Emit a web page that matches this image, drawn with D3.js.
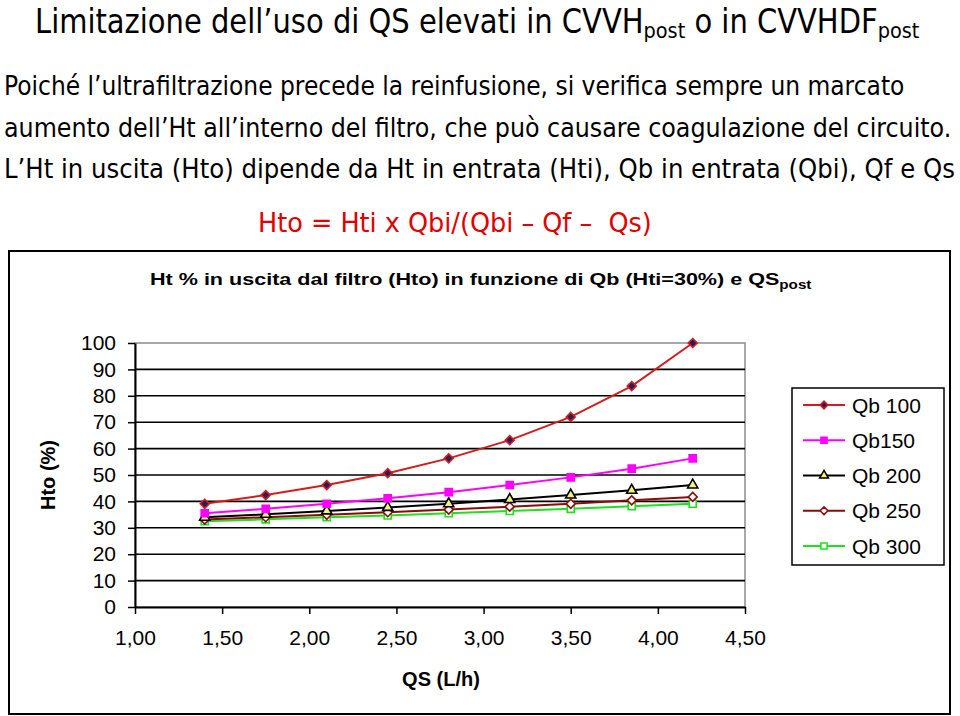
<!DOCTYPE html>
<html><head><meta charset="utf-8">
<script src="https://cdn.jsdelivr.net/npm/d3@7/dist/d3.min.js"></script>
<style>body{margin:0;background:#fff}svg{display:block}</style>
</head><body>
<svg id="c" width="960" height="716"></svg>
<script>
const qsValues = [1.40, 1.75, 2.10, 2.45, 2.80, 3.15, 3.50, 3.85, 4.20];
const seriesNames = ["Qb 100", "Qb150", "Qb 200", "Qb 250", "Qb 300"];
const qb100 = [39.1, 42.4, 46.2, 50.7, 56.3, 63.2, 72.0, 83.7, 100.0];
const qb150 = [35.5, 37.2, 39.1, 41.2, 43.5, 46.2, 49.1, 52.4, 56.3];
const qb200 = [34.0, 35.1, 36.4, 37.7, 39.1, 40.7, 42.4, 44.2, 46.2];
const qb250 = [33.1, 34.0, 34.9, 35.9, 36.9, 38.0, 39.1, 40.4, 41.7];
const qb300 = [32.5, 33.2, 34.0, 34.7, 35.5, 36.4, 37.2, 38.2, 39.1];
const xTicks = [1.00, 1.50, 2.00, 2.50, 3.00, 3.50, 4.00, 4.50];
const yTicks = [0, 10, 20, 30, 40, 50, 60, 70, 80, 90, 100];

const svg = d3.select("#c");
const ARIAL = "'Liberation Sans', Arial, sans-serif";
const TAHOMA = "'DejaVu Sans', Verdana, sans-serif";

function fit(sel, x0, w) {
  const bw = sel.node().getBBox().width;
  const k = w / bw;
  sel.attr("transform", `translate(${x0},0) scale(${k},1) translate(${-x0},0)`);
}

// Slide title
const t = svg.append("text").attr("x", 35).attr("y", 33)
  .attr("font-family", TAHOMA).attr("font-size", 33).attr("fill", "#000");
t.append("tspan").text("Limitazione dell\u2019uso di QS elevati in CVVH");
t.append("tspan").attr("font-size", 22).attr("dy", 5).text("post");
t.append("tspan").attr("dy", -5).text(" o in CVVHDF");
t.append("tspan").attr("font-size", 22).attr("dy", 5).text("post");
fit(t, 35, 885);

const lines = [
  ["Poich\u00e9 l\u2019ultrafiltrazione precede la reinfusione, si verifica sempre un marcato", 95, 905],
  ["aumento dell\u2019Ht all\u2019interno del filtro, che pu\u00f2 causare coagulazione del circuito.", 137, 952],
  ["L\u2019Ht in uscita (Hto) dipende da Ht in entrata (Hti), Qb in entrata (Qbi), Qf e Qs", 178, 955]
];
lines.forEach(([s, y, x1]) => {
  const tx = svg.append("text").attr("x", 4).attr("y", y)
    .attr("font-family", TAHOMA).attr("font-size", 26).attr("fill", "#000").text(s);
  fit(tx, 4, x1 - 4);
});
const f = svg.append("text").attr("x", 258).attr("y", 232)
  .attr("font-family", TAHOMA).attr("font-size", 26).attr("fill", "#e00000")
  .text("Hto = Hti x Qbi/(Qbi \u2013 Qf \u2013  Qs)").attr("xml:space", "preserve");
fit(f, 258, 394);

// Chart box
svg.append("rect").attr("x", 9).attr("y", 251).attr("width", 941).attr("height", 463)
  .attr("fill", "#fff").attr("stroke", "#000").attr("stroke-width", 2);

const ct = svg.append("text").attr("x", 150).attr("y", 285)
  .attr("font-family", ARIAL).attr("font-weight", "bold").attr("font-size", 17).attr("fill", "#000");
ct.append("tspan").text("Ht % in uscita dal filtro (Hto) in funzione di Qb (Hti=30%) e QS");
ct.append("tspan").attr("font-size", 12).attr("dy", 4).text("post");
fit(ct, 150, 662);

// Scales
const x = d3.scaleLinear().domain([1, 4.5]).range([135, 745]);
const y = d3.scaleLinear().domain([0, 100]).range([607, 343]);

// Plot border (gray) and gridlines
svg.append("rect").attr("x", x(1)).attr("y", y(100)).attr("width", x(4.5) - x(1)).attr("height", y(0) - y(100))
  .attr("fill", "none").attr("stroke", "#8c8c8c").attr("stroke-width", 1.5);
svg.append("g").selectAll("line").data(yTicks.filter(d => d > 0 && d < 100)).join("line")
  .attr("x1", x(1)).attr("x2", x(4.5)).attr("y1", d => y(d)).attr("y2", d => y(d))
  .attr("stroke", "#000").attr("stroke-width", 1.6);

// Axes
const yAxis = d3.axisLeft(y).tickValues(yTicks).tickSize(7).tickSizeOuter(0).tickPadding(12);
const gy = svg.append("g").attr("transform", `translate(${x(1)},0)`).call(yAxis);
gy.select(".domain").attr("stroke", "#000").attr("stroke-width", 2);
gy.selectAll(".tick line").attr("stroke", "#000").attr("stroke-width", 1.5);
gy.selectAll(".tick text").attr("font-family", ARIAL).attr("font-size", 21).attr("fill", "#000");

const xAxis = d3.axisBottom(x).tickValues(xTicks).tickSize(7).tickSizeOuter(0).tickPadding(16)
  .tickFormat(d => d3.format(".2f")(d).replace(".", ","));
const gx = svg.append("g").attr("transform", `translate(0,${y(0)})`).call(xAxis);
gx.select(".domain").attr("stroke", "#000").attr("stroke-width", 2);
gx.selectAll(".tick line").attr("stroke", "#000").attr("stroke-width", 1.5);
gx.selectAll(".tick text").attr("font-family", ARIAL).attr("font-size", 21).attr("fill", "#000");

svg.append("text").attr("x", 441).attr("y", 686).attr("text-anchor", "middle")
  .attr("font-family", ARIAL).attr("font-weight", "bold").attr("font-size", 20).text("QS (L/h)");
svg.append("text").attr("transform", "translate(55,475) rotate(-90)").attr("text-anchor", "middle")
  .attr("font-family", ARIAL).attr("font-weight", "bold").attr("font-size", 20).text("Hto (%)");

// Series
const diamond = {draw(ctx, size) {
  const r = Math.sqrt(size / 2);
  ctx.moveTo(0, -r); ctx.lineTo(r, 0); ctx.lineTo(0, r); ctx.lineTo(-r, 0); ctx.closePath();
}};
const series = [
  {name: seriesNames[0], vals: qb100, color: "#d41c1c", marker: "diamond", mfill: "#2a1a5e", mstroke: "#d41c1c"},
  {name: seriesNames[1], vals: qb150, color: "#ff00ff", marker: "square", mfill: "#ff00ff", mstroke: "#ff00ff"},
  {name: seriesNames[2], vals: qb200, color: "#000000", marker: "triangle", mfill: "#f2f27a", mstroke: "#000"},
  {name: seriesNames[3], vals: qb250, color: "#8b0a0a", marker: "diamond", mfill: "#fff", mstroke: "#8b0a0a"},
  {name: seriesNames[4], vals: qb300, color: "#1ee01e", marker: "square", mfill: "#fff", mstroke: "#1ee01e"}
];
const symType = {diamond: diamond, square: d3.symbolSquare, triangle: d3.symbolTriangle};
const symSize = {diamond: 40, square: 50, triangle: 45};
const line = d3.line().x(d => x(d[0])).y(d => y(d[1]));

series.slice().reverse().forEach(s => {
  const pts = qsValues.map((q, i) => [q, s.vals[i]]);
  svg.append("path").datum(pts).attr("d", line).attr("fill", "none")
    .attr("stroke", s.color).attr("stroke-width", 2);
});
series.slice().reverse().forEach(s => {
  const pts = qsValues.map((q, i) => [q, s.vals[i]]);
  svg.append("g").selectAll("path").data(pts).join("path")
    .attr("transform", d => `translate(${x(d[0])},${y(d[1])})`)
    .attr("d", d3.symbol().type(symType[s.marker]).size(symSize[s.marker]))
    .attr("fill", s.mfill).attr("stroke", s.mstroke).attr("stroke-width", 1.6);
});

// Legend
svg.append("rect").attr("x", 792).attr("y", 388).attr("width", 152).attr("height", 177)
  .attr("fill", "#fff").attr("stroke", "#000").attr("stroke-width", 1.5);
const legY = d3.scalePoint().domain(seriesNames).range([405, 546]);
series.forEach(s => {
  const cy = legY(s.name);
  svg.append("line").attr("x1", 803).attr("x2", 845).attr("y1", cy).attr("y2", cy)
    .attr("stroke", s.color).attr("stroke-width", 2);
  svg.append("path").attr("transform", `translate(824,${cy})`)
    .attr("d", d3.symbol().type(symType[s.marker]).size(symSize[s.marker] * 0.75))
    .attr("fill", s.mfill).attr("stroke", s.mstroke).attr("stroke-width", 1.5);
  svg.append("text").attr("x", 852).attr("y", cy + 7.5)
    .attr("font-family", ARIAL).attr("font-size", 21).attr("fill", "#000").text(s.name);
});
</script>
</body></html>
